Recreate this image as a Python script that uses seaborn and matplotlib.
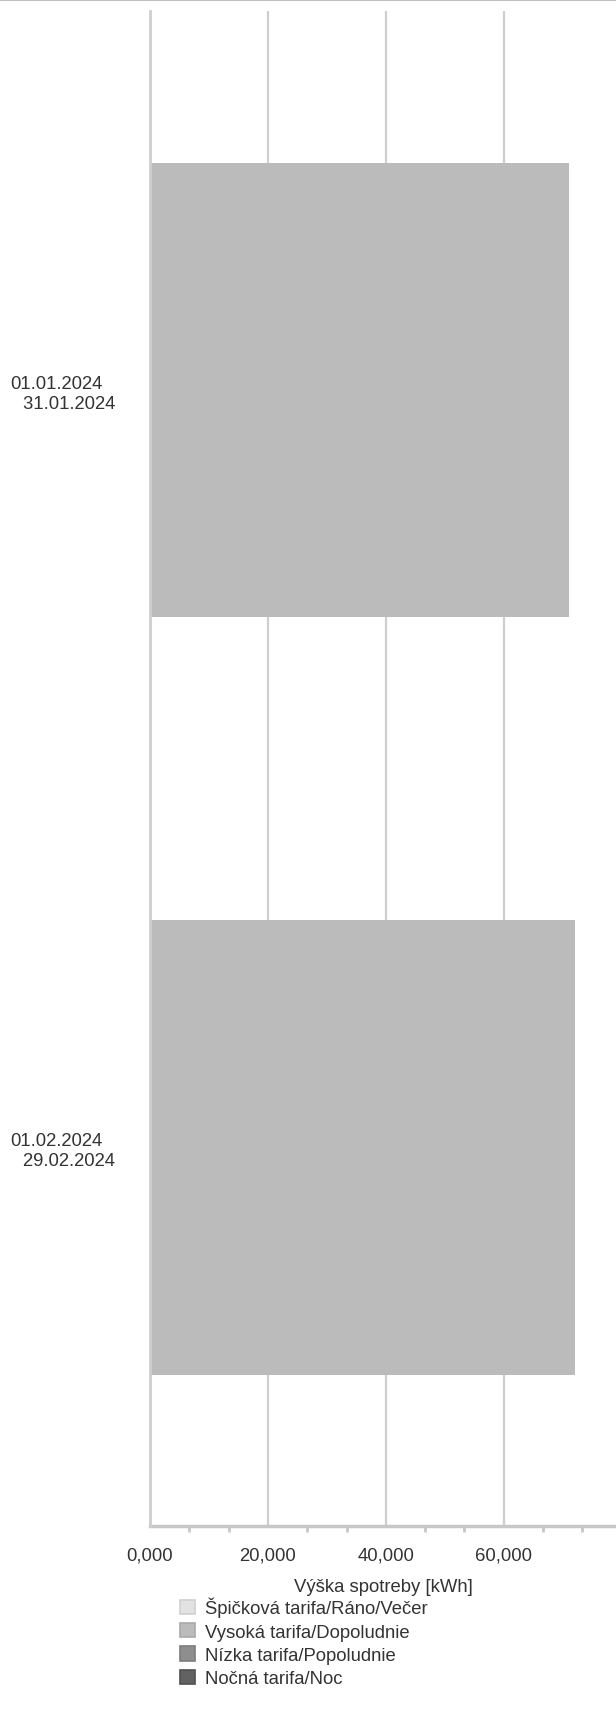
import matplotlib.pyplot as plt
import matplotlib.lines as mlines
import matplotlib.patches as mpatches
from matplotlib.ticker import MultipleLocator, FuncFormatter
import seaborn as sns
import pandas as pd

# billing periods and consumption per tariff [kWh]
periods = ['01.01.2024 - 31.01.2024', '01.02.2024 - 29.02.2024']
period_labels = ['01.01.2024\n\u2002\u200931.01.2024', '01.02.2024\n\u2002\u200929.02.2024']
spickova = [0.0, 0.0]
vysoka = [71.11, 72.13]
nizka = [0.0, 0.0]
nocna = [0.0, 0.0]

series_names = ['Špičková tarifa/Ráno/Večer', 'Vysoká tarifa/Dopoludnie',
                'Nízka tarifa/Popoludnie', 'Nočná tarifa/Noc']
series_values = [spickova, vysoka, nizka, nocna]
fill_colors = ['#e2e2e2', '#bbbbbb', '#8e8e8e', '#626262']
edge_colors = ['#d0d0d0', '#a9a9a9', '#7c7c7c', '#505050']

sns.set_style('white')
plt.rcParams['font.family'] = ['Liberation Sans', 'DejaVu Sans']
text_color = '#333333'
grid_color = '#cfcfcf'

df = pd.DataFrame({'period': periods})
for name, vals in zip(series_names, series_values):
    df[name] = vals

fig = plt.figure(figsize=(6.16, 17.33), dpi=100)
ax = fig.add_axes([150 / 616, 1 - 1527 / 1733, 1 - 150 / 616, (1527 - 12) / 1733])

# stacked bars: draw cumulative totals from the top layer down
cum = df[series_names].cumsum(axis=1)
for name, col in reversed(list(zip(series_names, fill_colors))):
    sns.barplot(data=cum.assign(period=df['period']), x=name, y='period', orient='h',
                color=col, saturation=1, width=0.6, linewidth=0, ax=ax, zorder=2)

ax.set_xlim(0, 79.05)
ax.xaxis.set_major_locator(MultipleLocator(20))
ax.xaxis.set_minor_locator(MultipleLocator(20 / 3))
ax.xaxis.set_major_formatter(FuncFormatter(lambda v, p: f'{v:.3f}'.replace('.', ',')))
ax.grid(axis='x', which='major', color=grid_color, linewidth=1.6, zorder=0)
ax.set_axisbelow(True)

for s in ['top', 'right']:
    ax.spines[s].set_visible(False)
ax.spines['bottom'].set_color('#c8c8c8')
ax.spines['bottom'].set_linewidth(2.5)
ax.spines['left'].set_color(grid_color)
ax.spines['left'].set_linewidth(2.0)
ax.spines['left'].set_zorder(3)

ax.tick_params(axis='x', which='major', length=8, width=2, color='#c8c8c8',
               pad=7, labelsize=13.3, labelcolor=text_color)
ax.tick_params(axis='x', which='minor', bottom=True, length=4.5, width=2, color='#c8c8c8')
ax.tick_params(axis='y', length=0, pad=25, labelsize=13.3, labelcolor=text_color)
ax.set_yticks(range(len(periods)))
ax.set_yticklabels(period_labels, ha='right', multialignment='left', linespacing=1.25)
for t in ax.get_yticklabels():
    t.set_y(t.get_position()[1])

ax.set_xlabel('Výška spotreby [kWh]', fontsize=13.3, color=text_color, labelpad=10.5)
ax.set_ylabel('')

# thin border line at the very top
fig.add_artist(mlines.Line2D([0, 1], [1 - 0.6 / 1733, 1 - 0.6 / 1733],
                             transform=fig.transFigure, color='#c0c0c0', linewidth=1.5))

handles = [mpatches.Patch(facecolor=fc, edgecolor=ec, linewidth=1.2)
           for fc, ec in zip(fill_colors, edge_colors)]
fig.legend(handles, series_names, loc='upper left',
           bbox_to_anchor=(180 / 616, 1 - 1598 / 1733), frameon=False,
           fontsize=13.3, labelcolor=text_color, borderpad=0, borderaxespad=0,
           handlelength=0.81, handleheight=0.81, handletextpad=0.55, labelspacing=0.31)

fig.savefig('out.png', dpi=100)
